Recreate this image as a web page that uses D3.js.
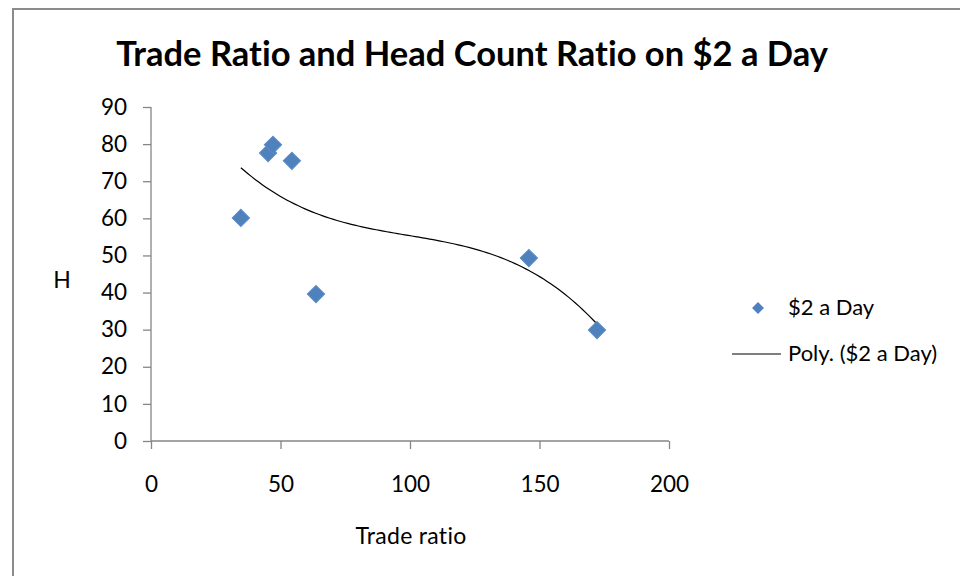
<!DOCTYPE html>
<html>
<head>
<meta charset="utf-8">
<script src="https://cdn.jsdelivr.net/npm/d3@7"></script>
<style>
  body { margin: 0; background: #fff; }
  text { font-family: Lato, "Open Sans", sans-serif; fill: #000; font-variant-ligatures: none; }
</style>
</head>
<body>
<div id="chart"></div>
<script>
// data
var tradeRatio = [34.7, 45.2, 47.1, 54.4, 63.7, 145.9, 172.2];
var headCount  = [60.1, 77.6, 79.8, 75.5, 39.6, 49.3, 29.9];
var xTicks = [0, 50, 100, 150, 200];
var yTicks = [0, 10, 20, 30, 40, 50, 60, 70, 80, 90];
var seriesName = "$2 a Day";
var trendName = "Poly. ($2 a Day)";

function init() {
    var w = 960;
    var h = 576;

    var svg = d3.select("#chart")
                .append("svg")
                .attr("width", w)
                .attr("height", h);

    // chart area border
    svg.append("rect")
        .attr("x", 13)
        .attr("y", 9)
        .attr("width", 960)
        .attr("height", 600)
        .attr("fill", "none")
        .attr("stroke", "#8c8c8c")
        .attr("stroke-width", 2);

    var x = d3.scaleLinear().domain([0, 200]).range([151, 669]);
    var y = d3.scaleLinear().domain([0, 90]).range([441, 107]);

    // axes
    var xAxis = d3.axisBottom(x).tickValues(xTicks).tickSize(8).tickPadding(27);
    var yAxis = d3.axisLeft(y).tickValues(yTicks).tickSize(8).tickPadding(16);

    var gx = svg.append("g")
        .attr("transform", "translate(0," + y(0) + ")")
        .call(xAxis);
    var gy = svg.append("g")
        .attr("transform", "translate(" + x(0) + ",0)")
        .call(yAxis);

    [gx, gy].forEach(function(g) {
        g.select(".domain").attr("stroke", "#868686").attr("stroke-width", 1.3);
        g.selectAll(".tick line").attr("stroke", "#868686").attr("stroke-width", 1.3);
        g.selectAll(".tick text")
            .attr("font-family", "Lato, sans-serif")
            .attr("font-size", 22.5)
            .attr("fill", "#1a1a1a");
    });
    gy.select(".domain").attr("d", "M0," + y(90) + "V" + y(0));
    gx.select(".domain").attr("d", "M" + x(0) + ",0H" + x(200));

    // cubic least-squares trend line, same as Excel poly(3)
    var order = 3;
    var A = [], b = [];
    for (var i = 0; i <= order; i++) {
        A.push([]);
        for (var j = 0; j <= order; j++) {
            A[i].push(d3.sum(tradeRatio, function(v) { return Math.pow(v, i + j); }));
        }
        b.push(d3.sum(tradeRatio, function(v, k) { return Math.pow(v, i) * headCount[k]; }));
    }
    for (var c = 0; c <= order; c++) {
        for (var r = c + 1; r <= order; r++) {
            var f = A[r][c] / A[c][c];
            for (var k = c; k <= order; k++) A[r][k] -= f * A[c][k];
            b[r] -= f * b[c];
        }
    }
    var coef = new Array(order + 1);
    for (var r2 = order; r2 >= 0; r2--) {
        var s = b[r2];
        for (var k2 = r2 + 1; k2 <= order; k2++) s -= A[r2][k2] * coef[k2];
        coef[r2] = s / A[r2][r2];
    }
    function poly(v) {
        return coef.reduce(function(acc, cf, p) { return acc + cf * Math.pow(v, p); }, 0);
    }
    var x0 = d3.min(tradeRatio), x1 = d3.max(tradeRatio);
    var trend = d3.range(0, 101).map(function(t) { var v = x0 + (x1 - x0) * t / 100; return [v, poly(v)]; });

    svg.append("path")
        .datum(trend)
        .attr("fill", "none")
        .attr("stroke", "#000")
        .attr("stroke-width", 1.2)
        .attr("d", d3.line().x(function(d) { return x(d[0]); }).y(function(d) { return y(d[1]); }));

    // diamond markers
    var diamond = d3.symbol().type(d3.symbolSquare).size(150);
    svg.selectAll("path.pt")
        .data(tradeRatio)
        .enter()
        .append("path")
        .attr("class", "pt")
        .attr("d", diamond)
        .attr("fill", "#4f81bd")
        .attr("stroke", "#5b8cc6")
        .attr("stroke-width", 1)
        .attr("transform", function(d, i) {
            return "translate(" + x(d) + "," + y(headCount[i]) + ") rotate(45)";
        });

    // title
    svg.append("text")
        .attr("x", 472)
        .attr("y", 66)
        .attr("text-anchor", "middle")
        .attr("font-size", 34.5)
        .attr("font-weight", "bold")
        .text("Trade Ratio and Head Count Ratio on $2 a Day");

    // axis titles
    svg.append("text")
        .attr("x", 62)
        .attr("y", 288)
        .attr("text-anchor", "middle")
        .attr("font-size", 23)
        .text("H");
    svg.append("text")
        .attr("x", 411)
        .attr("y", 544)
        .attr("text-anchor", "middle")
        .attr("font-size", 23)
        .attr("letter-spacing", 0.3)
        .text("Trade ratio");

    // legend
    svg.append("path")
        .attr("d", d3.symbol().type(d3.symbolSquare).size(70))
        .attr("fill", "#4f81bd")
        .attr("transform", "translate(758,308) rotate(45)");
    svg.append("text")
        .attr("x", 788)
        .attr("y", 315)
        .attr("font-size", 22)
        .text(seriesName);
    svg.append("line")
        .attr("x1", 732).attr("x2", 781)
        .attr("y1", 354).attr("y2", 354)
        .attr("stroke", "#000")
        .attr("stroke-width", 1.2);
    svg.append("text")
        .attr("x", 788)
        .attr("y", 361)
        .attr("font-size", 22)
        .text(trendName);
}
window.onload = init;
</script>
</body>
</html>
